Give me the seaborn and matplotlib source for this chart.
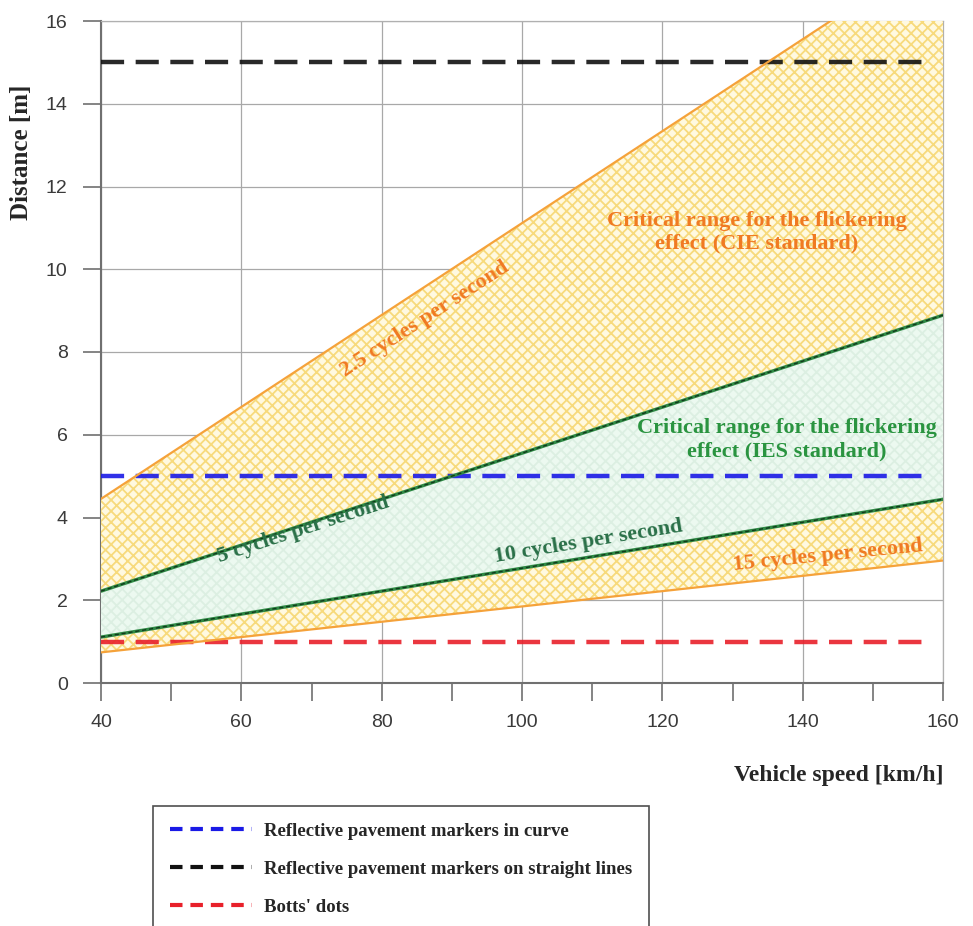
import numpy as np
import pandas as pd
import matplotlib
matplotlib.use("Agg")
import matplotlib.pyplot as plt
from matplotlib.lines import Line2D
from matplotlib.ticker import MultipleLocator
import seaborn as sns

# Vehicle speed range [km/h] and the boundary distances [m] of each flicker frequency
speed = [40, 160]
dist_2_5 = [4.45, 17.78]
dist_5 = [2.22, 8.89]
dist_10 = [1.11, 4.44]
dist_15 = [0.74, 2.96]

# Marker spacings [m]
spacing_labels = ["Reflective pavement markers in curve",
                  "Reflective pavement markers on straight lines",
                  "Botts' dots"]
spacing_values = [5, 15, 1]
spacing_colors = ["#1a1ae6", "#111111", "#e8202a"]

x_ticks = [40, 60, 80, 100, 120, 140, 160]
y_ticks = [0, 2, 4, 6, 8, 10, 12, 14, 16]

sns.set_style("white")
plt.rcParams["hatch.linewidth"] = 1.3
serif = ["Liberation Serif", "DejaVu Serif"]

fig = plt.figure(figsize=(9.73, 9.26), dpi=100)
ax = fig.add_axes([101 / 973, 1 - 683 / 926, 842 / 973, 662 / 926])

ORANGE = "#f5a23a"

# CIE critical range: between 2.5 and 15 cycles per second
ax.fill_between(speed, dist_15, dist_2_5, facecolor="#fff9e0", edgecolor="#f7da7c",
                hatch="xxx", linewidth=0, zorder=3)
# IES critical range: between 5 and 10 cycles per second
ax.fill_between(speed, dist_10, dist_5, facecolor="#ecf9f0", edgecolor="#dcefe2",
                hatch="xxx", linewidth=0, zorder=4)

# Horizontal marker spacing lines
for lab, val, col in zip(spacing_labels, spacing_values, spacing_colors):
    ax.plot([40, 158.5], [val, val], color=col, lw=3.2, ls=(0, (5.2, 2.6)),
            alpha=0.9, zorder=5)

df = pd.DataFrame({
    "speed": speed * 4,
    "distance": dist_2_5 + dist_5 + dist_10 + dist_15,
    "freq": ["2.5"] * 2 + ["5"] * 2 + ["10"] * 2 + ["15"] * 2,
})
sns.lineplot(data=df[df.freq.isin(["2.5", "15"])], x="speed", y="distance",
             units="freq", estimator=None, color=ORANGE, lw=1.6, ax=ax, zorder=6)
sns.lineplot(data=df[df.freq.isin(["5", "10"])], x="speed", y="distance",
             units="freq", estimator=None, color="#2f8a45", lw=2.4, ax=ax, zorder=6)
sns.lineplot(data=df[df.freq.isin(["5", "10"])], x="speed", y="distance",
             units="freq", estimator=None, color="#123a1c", lw=1.0,
             ls=(0, (3, 2)), ax=ax, zorder=7)

ax.set_xlim(40, 160)
ax.set_ylim(0, 16)
ax.set_xticks(x_ticks)
ax.set_yticks(y_ticks)
ax.xaxis.set_minor_locator(MultipleLocator(10))
ax.grid(True, which="major", color="#a8a8a8", lw=0.9)
ax.set_axisbelow(True)
ax.tick_params(axis="both", which="both", direction="out", length=13, width=1.2,
               color="#707070", labelsize=14, labelcolor="#3a3a3a", pad=9)
ax.tick_params(axis="x", which="both", bottom=True)
ax.tick_params(axis="y", which="both", left=True, pad=11)
for lbl in ax.get_xticklabels() + ax.get_yticklabels():
    lbl.set_family(["Liberation Sans", "DejaVu Sans"])
for side in ["left", "bottom"]:
    ax.spines[side].set_color("#707070")
    ax.spines[side].set_linewidth(1.5)
for side in ["top", "right"]:
    ax.spines[side].set_color("#b0b0b0")
    ax.spines[side].set_linewidth(0.9)

ax.set_xlabel("")
ax.set_ylabel("")
fig.text(22 / 973, 1 - 152 / 926, "Distance [m]", rotation=90, ha="center",
         va="center", fontsize=18, fontweight="bold", family=serif)
fig.text(943 / 973, 1 - 775 / 926, "Vehicle speed [km/h]", ha="right", va="center",
         fontsize=17, fontweight="bold", family=serif)

# Frequency labels along their lines
lab_kw = dict(fontsize=16, fontweight="bold", family=serif, ha="center",
              va="center", zorder=8)
ax.text(86.2, 8.8, "2.5 cycles per second", color="#f07a22", rotation=33, **lab_kw)
ax.text(68.8, 3.7, "5 cycles per second", color="#2a7048", rotation=18, **lab_kw)
ax.text(109.5, 3.42, "10 cycles per second", color="#2a7048", rotation=9.3, **lab_kw)
ax.text(143.6, 3.08, "15 cycles per second", color="#f07a22", rotation=5.7, **lab_kw)

ax.text(133.5, 10.9, "Critical range for the flickering\neffect (CIE standard)",
        color="#f07a22", linespacing=1.2, **lab_kw)
ax.text(137.8, 5.88, "Critical range for the flickering\neffect (IES standard)",
        color="#2a9440", linespacing=1.2, **lab_kw)

handles = [Line2D([], [], color=c, lw=3.0, ls=(0, (3.0, 1.9))) for c in spacing_colors]
leg = fig.legend(handles, spacing_labels, loc="upper left",
                 bbox_to_anchor=(153 / 973, 1 - 806 / 926), borderaxespad=0,
                 frameon=True, fancybox=False, edgecolor="#222222",
                 handlelength=4.4, handletextpad=0.6, borderpad=0.9,
                 labelspacing=1.1,
                 prop={"family": serif, "weight": "bold", "size": 13.5})
leg.get_frame().set_linewidth(1.2)

fig.savefig("out.png", dpi=100)
